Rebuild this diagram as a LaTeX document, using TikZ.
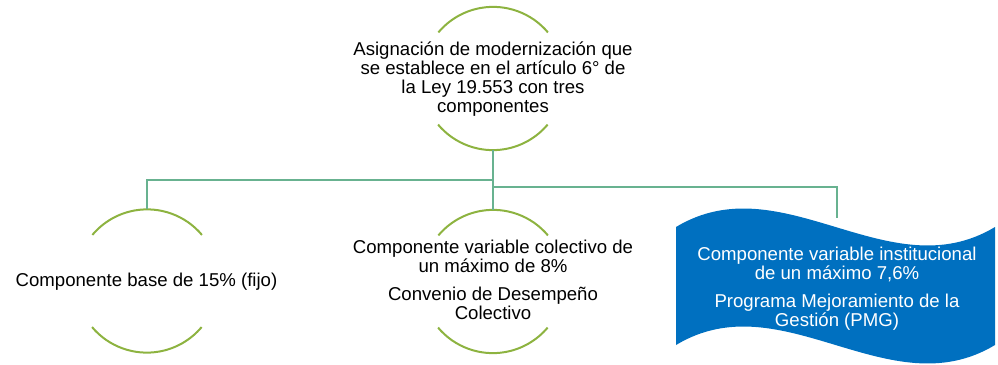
\documentclass[tikz,border=0pt]{standalone}
\usepackage{fontspec}
\setmainfont{Liberation Sans}
\definecolor{arcgreen}{RGB}{141,179,64}
\definecolor{linkgreen}{RGB}{104,178,144}
\definecolor{waveblue}{RGB}{0,112,192}
\begin{document}
\begin{tikzpicture}[x=1pt,y=-1pt,
  ring/.style={circle,minimum size=143pt,inner sep=0pt,draw=none},
  arcline/.style={draw=arcgreen,line width=2pt},
  link/.style={draw=linkgreen,line width=2pt},
  lbl/.style={font=\fontsize{18.6}{19}\selectfont,align=center,inner sep=0pt,anchor=base}]
\useasboundingbox (0,0) rectangle (998,364);
% rings
\node[ring] (topc) at (493,78.5) {};
\node[ring] (leftc) at (147,281) {};
\node[ring] (midc) at (493,281.5) {};
\foreach \c in {topc,leftc,midc}{
  \draw[arcline] (\c.40) arc[start angle=40,end angle=140,radius=71.5pt];
  \draw[arcline] (\c.-140) arc[start angle=-140,end angle=-40,radius=71.5pt];
}
% wave
\fill[waveblue] (676,227) .. controls (782.3,163) and (888.7,291) .. (995,227)
  -- (995,345) .. controls (888.7,409) and (782.3,281) .. (676,345) -- cycle;
% connectors
\coordinate (jl) at (493,180);
\coordinate (jr) at (493,187);
\coordinate (rtop) at (837,217.7);
\draw[link] (topc.south) -- (midc.north);
\draw[link] (jl) -| (leftc.north);
\draw[link] (jr) -| (rtop);
% texts (anchor base = baseline of the last line)
\node[lbl] (ttop) at (493,112) {Asignación de modernización que\\se establece en el artículo 6° de\\la Ley 19.553 con tres\\componentes};
\node[lbl] (tleft) at (146.5,286.7) {Componente base de 15\% (fijo)};
\node[lbl] (tmid) at (493,319.5) {Componente variable colectivo de\\un máximo de 8\%\\[9pt]Convenio de Desempeño\\Colectivo};
\node[lbl,text=white] (tright) at (837,326.7) {Componente variable institucional\\de un máximo 7,6\%\\[9pt]Programa Mejoramiento de la\\Gestión (PMG)};
\end{tikzpicture}
\end{document}
